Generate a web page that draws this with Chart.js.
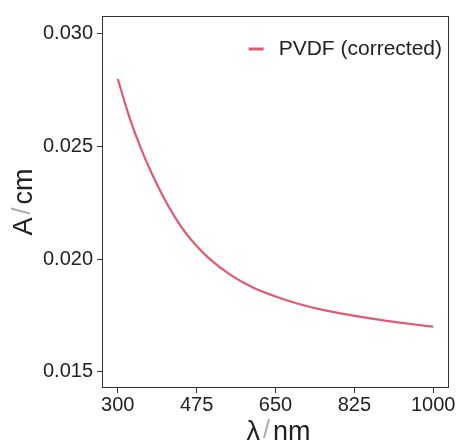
<!DOCTYPE html>
<html>
<head>
<meta charset="utf-8">
<script src="https://cdn.jsdelivr.net/npm/chart.js@4"></script>
<style>
  html, body { margin: 0; padding: 0; background: #fff; }
  #wrap { width: 457px; height: 444px; }
</style>
</head>
<body>
<div id="wrap"><canvas id="chart" width="457" height="444"></canvas></div>
<script>
// ── DATA ─────────────────────────────────────────────────────────────
var wavelengths = [300, 325, 350, 375, 400, 425, 450, 475, 500, 550, 600, 650, 700, 750, 800, 850, 900, 950, 1000];
var absorbance  = [0.02800, 0.02635, 0.02498, 0.02382, 0.02280, 0.02192, 0.02118, 0.02058, 0.02008,
                   0.01930, 0.01874, 0.01834, 0.01802, 0.01777, 0.01757, 0.01740, 0.01725, 0.01712, 0.01700];
var xTicks = [300, 475, 650, 825, 1000];
var yTicks = [0.015, 0.020, 0.025, 0.030];
var seriesLabel = 'PVDF (corrected)';
var xTitle = ['λ', 'nm'];
var yTitle = ['A', 'cm'];

var FONT = '"Liberation Sans", Arial, Helvetica, sans-serif';
var INK  = '#222';
var LINE = '#e15a71';

// ── HELPERS ──────────────────────────────────────────────────────────
// axis title "a / b" with a light grey slash, centred on (0,0) of the current transform
function drawUnitTitle(ctx, parts) {
  var big = '27px ' + FONT, small = '25px ' + FONT, gap = 3;
  ctx.font = big;
  var w1 = ctx.measureText(parts[0]).width, w3 = ctx.measureText(parts[1]).width;
  ctx.font = small;
  var w2 = ctx.measureText('/').width;
  var total = w1 + gap + w2 + gap + w3;
  var x = -total / 2;
  ctx.textAlign = 'left';
  ctx.textBaseline = 'alphabetic';
  ctx.font = big; ctx.fillStyle = INK;
  ctx.fillText(parts[0], x, 10);
  x += w1 + gap;
  ctx.font = small; ctx.fillStyle = '#aaa';
  ctx.fillText('/', x, 8);
  x += w2 + gap;
  ctx.font = big; ctx.fillStyle = INK;
  ctx.fillText(parts[1], x, 10);
}

// ── PLUGINS ──────────────────────────────────────────────────────────
var frame = {
  id: 'frame',
  afterDraw: function(chart) {
    var a = chart.chartArea, ctx = chart.ctx;
    ctx.save();
    ctx.strokeStyle = '#333';
    ctx.lineWidth = 1;
    ctx.strokeRect(a.left + 0.5, a.top + 0.5, a.right - a.left - 1, a.bottom - a.top - 1);

    // legend (top right inside the panel)
    var ds = chart.data.datasets[0];
    ctx.font = '21px ' + FONT;
    ctx.fillStyle = INK;
    ctx.textBaseline = 'middle';
    ctx.textAlign = 'right';
    ctx.fillText(ds.label, a.right - 7, 49);
    var w = ctx.measureText(ds.label).width;
    var x1 = a.right - 7 - w - 15;
    ctx.strokeStyle = ds.borderColor;
    ctx.lineWidth = 3;
    ctx.beginPath();
    ctx.moveTo(x1 - 15, 49);
    ctx.lineTo(x1, 49);
    ctx.stroke();

    // axis titles
    ctx.save();
    ctx.translate((a.left + a.right) / 2 + 3, 430);
    drawUnitTitle(ctx, xTitle);
    ctx.restore();
    ctx.save();
    ctx.translate(22, (a.top + a.bottom) / 2);
    ctx.rotate(-Math.PI / 2);
    drawUnitTitle(ctx, yTitle);
    ctx.restore();
    ctx.restore();
  }
};

// ── CHART ────────────────────────────────────────────────────────────
var points = wavelengths.map(function(w, i) { return { x: w, y: absorbance[i] }; });

new Chart(document.getElementById('chart').getContext('2d'), {
  type: 'line',
  data: {
    datasets: [{
      label: seriesLabel,
      data: points,
      borderColor: LINE,
      borderWidth: 2.2,
      pointRadius: 0,
      cubicInterpolationMode: 'monotone',
      fill: false
    }]
  },
  options: {
    responsive: false,
    animation: false,
    layout: { padding: { left: 0, top: 10, right: 8, bottom: 0 } },
    plugins: { legend: { display: false }, tooltip: { enabled: false } },
    scales: {
      x: {
        type: 'linear',
        min: 265, max: 1035,
        afterBuildTicks: function(s) { s.ticks = xTicks.map(function(v) { return { value: v }; }); },
        afterFit: function(s) { s.height = 56; },
        grid: { drawOnChartArea: false, drawTicks: true, tickLength: 5, color: '#333' },
        border: { display: false },
        ticks: {
          color: INK, font: { family: FONT, size: 20 }, padding: 0, maxRotation: 0,
          callback: function(v) { return String(v); }
        },
        title: { display: false }
      },
      y: {
        type: 'linear',
        min: 0.01428, max: 0.03079,
        afterBuildTicks: function(s) { s.ticks = yTicks.map(function(v) { return { value: v }; }); },
        afterFit: function(s) { s.width = 102; },
        grid: { drawOnChartArea: false, drawTicks: true, tickLength: 5, color: '#333' },
        border: { display: false },
        ticks: {
          color: INK, font: { family: FONT, size: 20 }, padding: 4,
          callback: function(v) { return v.toFixed(3); }
        },
        title: { display: false }
      }
    }
  },
  plugins: [frame]
});
</script>
</body>
</html>
